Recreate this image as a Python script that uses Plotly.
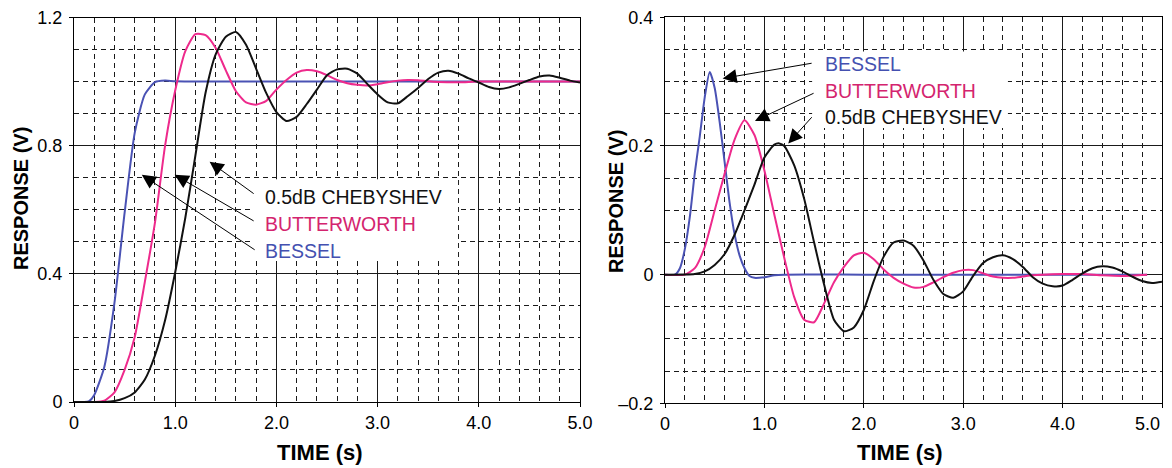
import plotly.graph_objects as go

# ---------------- data ----------------
# Left panel: step response
t_bessel_step = [0.0, 0.1, 0.15, 0.2, 0.3, 0.4, 0.5, 0.6, 0.7, 0.8, 0.9, 1.0, 1.5, 2.0, 3.0, 4.0, 5.0]
v_bessel_step = [0.0, 0.0, 0.003, 0.022, 0.11, 0.31, 0.59, 0.84, 0.96, 0.998, 1.003, 1.001, 1.0, 1.0, 1.0, 1.0, 1.0]

t_butter_step = [0.0, 0.2, 0.3, 0.4, 0.5, 0.6, 0.7, 0.8, 0.9, 1.0, 1.1, 1.2, 1.3, 1.4, 1.5, 1.6, 1.7,
                 1.8, 1.9, 2.0, 2.1, 2.2, 2.3, 2.4, 2.5, 2.6, 2.7, 2.8, 2.9, 3.0, 3.1, 3.2, 3.3, 3.4,
                 3.5, 3.6, 3.8, 4.0, 4.5, 5.0]
v_butter_step = [0.0, 0.0, 0.004, 0.03, 0.10, 0.203, 0.375, 0.56, 0.80, 0.972, 1.095, 1.148, 1.145, 1.105,
                 1.035, 0.97, 0.935, 0.928, 0.94, 0.975, 1.005, 1.028, 1.036, 1.032, 1.02, 1.005, 0.995,
                 0.99, 0.988, 0.992, 0.998, 1.003, 1.005, 1.004, 1.001, 0.999, 0.998, 1.0, 1.0, 1.0]

t_cheb_step = [0.0, 0.3, 0.4, 0.5, 0.6, 0.7, 0.8, 0.9, 1.0, 1.1, 1.2, 1.3, 1.4, 1.5, 1.6, 1.7, 1.8, 1.9,
               2.0, 2.1, 2.2, 2.3, 2.4, 2.5, 2.6, 2.7, 2.8, 2.9, 3.0, 3.1, 3.2, 3.3, 3.4, 3.5, 3.6, 3.7,
               3.8, 3.9, 4.0, 4.1, 4.2, 4.3, 4.4, 4.5, 4.6, 4.7, 4.8, 4.9, 5.0]
v_cheb_step = [0.0, 0.0, 0.003, 0.012, 0.03, 0.07, 0.145, 0.255, 0.405, 0.575, 0.77, 0.965, 1.085, 1.14,
               1.155, 1.115, 1.04, 0.964, 0.905, 0.877, 0.89, 0.93, 0.975, 1.02, 1.038, 1.04, 1.025,
               0.992, 0.96, 0.935, 0.932, 0.955, 0.98, 1.008, 1.028, 1.034, 1.025, 1.01, 0.997, 0.983,
               0.977, 0.982, 0.993, 1.005, 1.016, 1.019, 1.012, 1.003, 0.997]

# Right panel: impulse response
t_bessel_imp = [0.0, 0.1, 0.15, 0.2, 0.25, 0.3, 0.35, 0.4, 0.45, 0.5, 0.55, 0.6, 0.65, 0.7, 0.75, 0.8,
                0.85, 0.9, 1.0, 1.1, 1.2, 2.0, 3.0, 4.0, 4.85]
v_bessel_imp = [0.0, 0.0, 0.01, 0.04, 0.09, 0.158, 0.215, 0.276, 0.315, 0.29, 0.237, 0.175, 0.112, 0.063,
                0.03, 0.01, -0.002, -0.005, -0.004, -0.001, 0.0, 0.0, 0.0, 0.0, 0.0]

t_butter_imp = [0.0, 0.2, 0.3, 0.4, 0.5, 0.6, 0.7, 0.8, 0.9, 1.0, 1.1, 1.2, 1.3, 1.4, 1.5, 1.6, 1.7, 1.8,
                1.9, 2.0, 2.1, 2.2, 2.3, 2.4, 2.5, 2.6, 2.7, 2.8, 2.9, 3.0, 3.1, 3.2, 3.3, 3.4, 3.5, 3.6,
                3.7, 3.8, 4.0, 4.2, 4.4, 4.6, 4.85]
v_butter_imp = [0.0, 0.0, 0.01, 0.043, 0.10, 0.157, 0.21, 0.24, 0.217, 0.162, 0.093, 0.026, -0.035,
                -0.07, -0.074, -0.045, -0.012, 0.012, 0.03, 0.034, 0.024, 0.008, -0.005, -0.014, -0.02,
                -0.019, -0.012, -0.004, 0.003, 0.007, 0.007, 0.002, -0.003, -0.005, -0.005, -0.003,
                -0.001, 0.0, 0.001, 0.001, -0.001, -0.002, 0.0]

t_cheb_imp = [0.0, 0.3, 0.4, 0.5, 0.6, 0.7, 0.8, 0.9, 1.0, 1.1, 1.15, 1.2, 1.3, 1.4, 1.5, 1.6, 1.7, 1.8,
              1.9, 2.0, 2.1, 2.2, 2.3, 2.4, 2.5, 2.6, 2.7, 2.8, 2.9, 3.0, 3.1, 3.2, 3.3, 3.4, 3.5, 3.6,
              3.7, 3.8, 3.9, 4.0, 4.1, 4.2, 4.3, 4.4, 4.5, 4.6, 4.7, 4.8, 4.9, 5.0]
v_cheb_imp = [0.0, 0.001, 0.005, 0.015, 0.032, 0.062, 0.10, 0.14, 0.182, 0.202, 0.204, 0.2, 0.17, 0.118,
              0.05, -0.015, -0.07, -0.088, -0.082, -0.055, -0.01, 0.028, 0.05, 0.053, 0.045, 0.022,
              -0.008, -0.03, -0.036, -0.026, -0.002, 0.018, 0.027, 0.03, 0.024, 0.012, -0.004, -0.014,
              -0.018, -0.017, -0.008, 0.002, 0.01, 0.013, 0.011, 0.005, -0.003, -0.01, -0.013, -0.011]

series_names = ["0.5dB CHEBYSHEV", "BUTTERWORTH", "BESSEL"]
x_title = "TIME (s)"
y_title = "RESPONSE (V)"
x_last_label = "5.0"

# ---------------- style ----------------
BLUE = "#4A52B4"
PINK = "#EE2A8C"
BLUE_TXT = "#4450B0"
PINK_TXT = "#D4246E"
BLACK = "#111111"
FONT = "Liberation Sans, Arial, Helvetica, sans-serif"
W, H = 1172, 468

fig = go.Figure()

def line(x, y, color, xa, ya):
    fig.add_trace(go.Scatter(x=x, y=y, mode="lines", line=dict(color=color, width=2, shape="spline", smoothing=0.6),
                             xaxis=xa, yaxis=ya, showlegend=False, hoverinfo="skip"))

line(t_bessel_step, v_bessel_step, BLUE, "x", "y")
line(t_butter_step, v_butter_step, PINK, "x", "y")
line(t_cheb_step, v_cheb_step, BLACK, "x", "y")
line(t_bessel_imp, v_bessel_imp, BLUE, "x2", "y2")
line(t_butter_imp, v_butter_imp, PINK, "x2", "y2")
line(t_cheb_imp, v_cheb_imp, BLACK, "x2", "y2")

grid_dash = "5px,4px"
GRID = "#1a1a1a"
common = dict(showline=True, linecolor="black", linewidth=1, mirror=True, automargin=False,
              showgrid=True, gridcolor=GRID, gridwidth=1, zeroline=False,
              ticks="outside", ticklen=4, tickcolor="black", tickwidth=1,
              tickfont=dict(family=FONT, size=18, color="black"),
              tickformat=".1f", labelalias={"0.0": "0", "\u22120.2": "\u20130.2"})

xcommon = dict(common, range=[0, 5], tick0=0, dtick=1, ticklabelstandoff=0,
               minor=dict(tick0=0, dtick=0.2, showgrid=True, gridcolor=GRID, griddash=grid_dash, gridwidth=1, ticks=""))

fig.update_layout(
    width=W, height=H, autosize=False,
    margin=dict(l=0, r=0, t=0, b=0, autoexpand=False),
    paper_bgcolor="white", plot_bgcolor="white",
    font=dict(family=FONT, color="black"),
    xaxis=dict(xcommon, domain=[74 / W, 580 / W], anchor="y", ticklabeloverflow="allow"),
    yaxis=dict(common, domain=[1 - 402 / H, 1 - 17.5 / H], range=[0, 1.2], tick0=0, dtick=0.4,
               ticklabelstandoff=3, anchor="x",
               minor=dict(tick0=0, dtick=0.1, showgrid=True, gridcolor=GRID, griddash=grid_dash, gridwidth=1, ticks="")),
    xaxis2=dict(xcommon, domain=[665 / W, 1162 / W], anchor="y2",
                labelalias={"0.0": "0", "5.0": " "}),
    yaxis2=dict(common, domain=[1 - 403.3 / H, 1 - 17.3 / H], range=[-0.2, 0.4], tick0=0, dtick=0.2,
                ticklabelstandoff=3, anchor="x2",
                minor=dict(tick0=0, dtick=0.05, showgrid=True, gridcolor=GRID, griddash=grid_dash, gridwidth=1, ticks="")),
)

# white label boxes (over grid, under curves)
fig.add_shape(type="rect", xref="x", yref="y", x0=1.77, x1=3.795, y0=0.44, y1=0.695,
              fillcolor="white", line=dict(width=0), layer="between")
fig.add_shape(type="rect", xref="x2", yref="y2", x0=1.48, x1=3.45, y0=0.228, y1=0.347,
              fillcolor="white", line=dict(width=0), layer="between")

ann = []
label_font = 19.5
colors_txt = [BLACK, PINK_TXT, BLUE_TXT]
# left labels
for name, c, yy in zip(series_names, colors_txt, [0.639, 0.554, 0.472]):
    ann.append(dict(xref="x", yref="y", x=1.872, y=yy, text=name, showarrow=False, xanchor="left",
                    yanchor="middle", font=dict(family=FONT, size=label_font, color=c)))
# right labels (order: Bessel, Butterworth, Chebyshev)
for name, c, yy in zip(series_names, colors_txt, [0.245, 0.2857, 0.327]):
    ann.append(dict(xref="x2", yref="y2", x=1.59, y=yy, text=name, showarrow=False, xanchor="left",
                    yanchor="middle", font=dict(family=FONT, size=label_font, color=c)))

arrow_style = dict(showarrow=True, text="", arrowhead=2, arrowsize=2.8, arrowwidth=1, arrowcolor="black")
# left arrows (head -> tail)
for hx, hy, tx, ty in [(1.34, 0.75, 1.79, 0.647), (0.995, 0.709, 1.79, 0.5625), (0.67, 0.709, 1.80, 0.472)]:
    ann.append(dict(arrow_style, xref="x", yref="y", axref="x", ayref="y", x=hx, y=hy, ax=tx, ay=ty))
# right arrows
for hx, hy, tx, ty in [(0.58, 0.305, 1.49, 0.329), (0.905, 0.239, 1.51, 0.283), (1.24, 0.204, 1.49, 0.247)]:
    ann.append(dict(arrow_style, xref="x2", yref="y2", axref="x2", ayref="y2", x=hx, y=hy, ax=tx, ay=ty))

# last tick label of the right panel, kept inside the page
ann.append(dict(xref="x2", yref="paper", x=5.0, y=1 - 424 / H, text=x_last_label, showarrow=False,
                xanchor="right", yanchor="middle", font=dict(family=FONT, size=18, color="black")))

# axis titles
for xp in [320 / W, 900 / W]:
    ann.append(dict(xref="paper", yref="paper", x=xp, y=1 - 452 / H, text="<b>%s</b>" % x_title, showarrow=False,
                    xanchor="center", yanchor="middle", font=dict(family=FONT, size=22, color="black")))
for xp, yp in [(21 / W, 1 - 199 / H), (616 / W, 1 - 202 / H)]:
    ann.append(dict(xref="paper", yref="paper", x=xp, y=yp, text="<b>%s</b>" % y_title, showarrow=False,
                    textangle=-90, xanchor="center", yanchor="middle",
                    font=dict(family=FONT, size=20, color="black")))

fig.update_layout(annotations=ann)
fig.write_html("out.html", config={"displayModeBar": False, "staticPlot": True},
               post_script="document.body.style.margin='0';document.body.style.padding='0';document.body.style.overflow='hidden';")
